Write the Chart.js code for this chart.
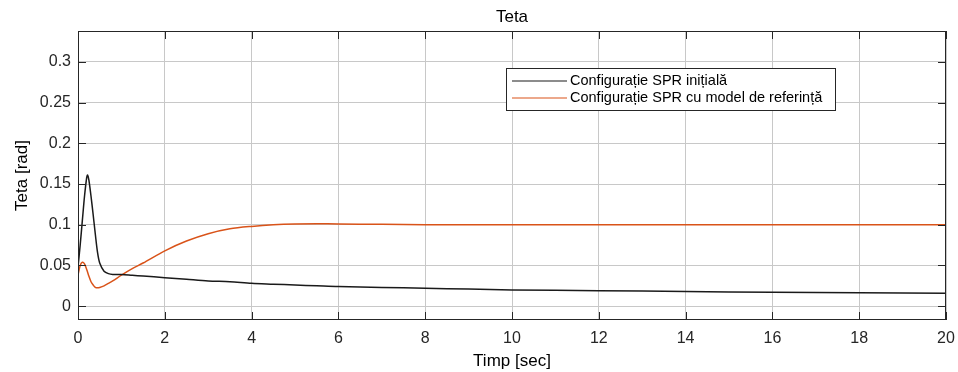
<!DOCTYPE html>
<html>
<head>
<meta charset="utf-8">
<script src="https://cdn.jsdelivr.net/npm/chart.js@4/dist/chart.umd.min.js"></script>
<style>
  html, body { margin: 0; padding: 0; background: #fff; }
  #wrap { width: 958px; height: 372px; }
</style>
</head>
<body>
<div id="wrap"><canvas id="myChart" width="958" height="372"></canvas></div>
<script>
const timp = [0, 0.05, 0.1, 0.15, 0.2, 0.22, 0.25, 0.3, 0.35, 0.4, 0.45, 0.5, 0.6, 0.7, 0.8, 1.0, 1.25, 1.5, 2, 2.5, 3, 3.5, 4, 4.5, 5, 5.5, 6, 7, 8, 9, 10, 12, 14, 16, 18, 20];
const initiala = [0.048, 0.075, 0.105, 0.135, 0.158, 0.161, 0.155, 0.135, 0.112, 0.088, 0.066, 0.053, 0.043, 0.040, 0.039, 0.039, 0.038, 0.037, 0.035, 0.033, 0.031, 0.030, 0.028, 0.027, 0.026, 0.025, 0.024, 0.023, 0.022, 0.021, 0.020, 0.019, 0.018, 0.017, 0.0165, 0.016];
const referinta = [0.038, 0.050, 0.054, 0.052, 0.045, 0.042, 0.037, 0.030, 0.026, 0.023, 0.0225, 0.023, 0.025, 0.028, 0.031, 0.038, 0.046, 0.053, 0.068, 0.080, 0.089, 0.095, 0.098, 0.100, 0.101, 0.1012, 0.101, 0.1005, 0.100, 0.100, 0.100, 0.100, 0.100, 0.100, 0.100, 0.100];
const xTicks = [0, 2, 4, 6, 8, 10, 12, 14, 16, 18, 20];
const yTicks = [0, 0.05, 0.1, 0.15, 0.2, 0.25, 0.3];
const seriesNames = ["Configurație SPR inițială", "Configurație SPR cu model de referință"];
const seriesColors = ["#1a1a1a", "#D95319"];
const chartTitle = "Teta";

const FONT = "'Liberation Sans', Arial, sans-serif";
const ctx = document.getElementById('myChart');

// box around the axes, inward ticks, title over the axes and legend, MATLAB style
const boxPlugin = {
  id: 'box',
  afterDraw(chart) {
    const a = chart.chartArea, c = chart.ctx;
    const xs = chart.scales.x, ys = chart.scales.y;
    c.save();
    c.strokeStyle = '#262626';
    c.lineWidth = 1;
    c.strokeRect(a.left + 0.5, a.top + 0.5, a.right - a.left - 1, a.bottom - a.top - 1);
    c.beginPath();
    xTicks.forEach(v => {
      const px = Math.round(xs.getPixelForValue(v)) + 0.5;
      c.moveTo(px, a.bottom); c.lineTo(px, a.bottom - 8);
      c.moveTo(px, a.top); c.lineTo(px, a.top + 8);
    });
    yTicks.forEach(v => {
      const py = Math.round(ys.getPixelForValue(v)) + 0.5;
      c.moveTo(a.left, py); c.lineTo(a.left + 8, py);
      c.moveTo(a.right, py); c.lineTo(a.right - 8, py);
    });
    c.stroke();

    // title
    c.fillStyle = '#000';
    c.font = '17px ' + FONT;
    c.textAlign = 'center';
    c.textBaseline = 'middle';
    c.fillText(chartTitle, (a.left + a.right) / 2, 17);

    // legend box
    const lx = 506, ly = 68, lw = 329, lh = 42;
    c.fillStyle = '#fff';
    c.fillRect(lx, ly, lw, lh);
    c.strokeStyle = '#262626';
    c.strokeRect(lx + 0.5, ly + 0.5, lw, lh);
    c.font = '14.5px ' + FONT;
    c.textAlign = 'left';
    chart.data.datasets.forEach((ds, i) => {
      const y = ly + 13 + i * 17;
      c.strokeStyle = ds.borderColor;
      c.lineWidth = 1.2;
      c.beginPath(); c.moveTo(lx + 6, y); c.lineTo(lx + 61, y); c.stroke();
      c.fillStyle = '#000';
      c.fillText(ds.label, lx + 64, y);
    });
    c.restore();
  }
};

const myChart = new Chart(ctx, {
  type: 'line',
  data: {
    datasets: seriesNames.map((name, i) => ({
      label: name,
      data: timp.map((t, k) => ({ x: t, y: (i === 0 ? initiala : referinta)[k] })),
      borderColor: seriesColors[i],
      borderWidth: 1.5,
      pointRadius: 0,
      fill: false,
      tension: 0.3
    }))
  },
  options: {
    responsive: false,
    animation: false,
    layout: { padding: { left: 0, right: 12, top: 31, bottom: 0 } },
    scales: {
      x: {
        type: 'linear',
        min: 0, max: 20,
        afterBuildTicks: s => { s.ticks = xTicks.map(v => ({ value: v })); },
        afterFit: s => { s.height = 52; s.paddingLeft = 0; s.paddingRight = 0; },
        grid: { color: '#c8c8c8', drawTicks: false },
        border: { display: false },
        ticks: { color: '#262626', font: { family: FONT, size: 16 }, padding: 9, maxRotation: 0 },
        title: { display: true, text: 'Timp [sec]', color: '#000', font: { family: FONT, size: 17 }, padding: { top: 0, bottom: 0 } }
      },
      y: {
        min: -0.017, max: 0.338,
        afterBuildTicks: s => { s.ticks = yTicks.map(v => ({ value: v })); },
        afterFit: s => { s.width = 78; s.paddingTop = 0; s.paddingBottom = 0; },
        grid: { color: '#c8c8c8', drawTicks: false },
        border: { display: false },
        ticks: { color: '#262626', font: { family: FONT, size: 16 }, padding: 7, callback: v => String(v) },
        title: { display: true, text: 'Teta [rad]', color: '#000', font: { family: FONT, size: 17 }, padding: { top: 12, bottom: 0 } }
      }
    },
    plugins: {
      legend: { display: false },
      tooltip: { enabled: false },
      title: { display: false }
    }
  },
  plugins: [boxPlugin]
});
</script>
</body>
</html>
